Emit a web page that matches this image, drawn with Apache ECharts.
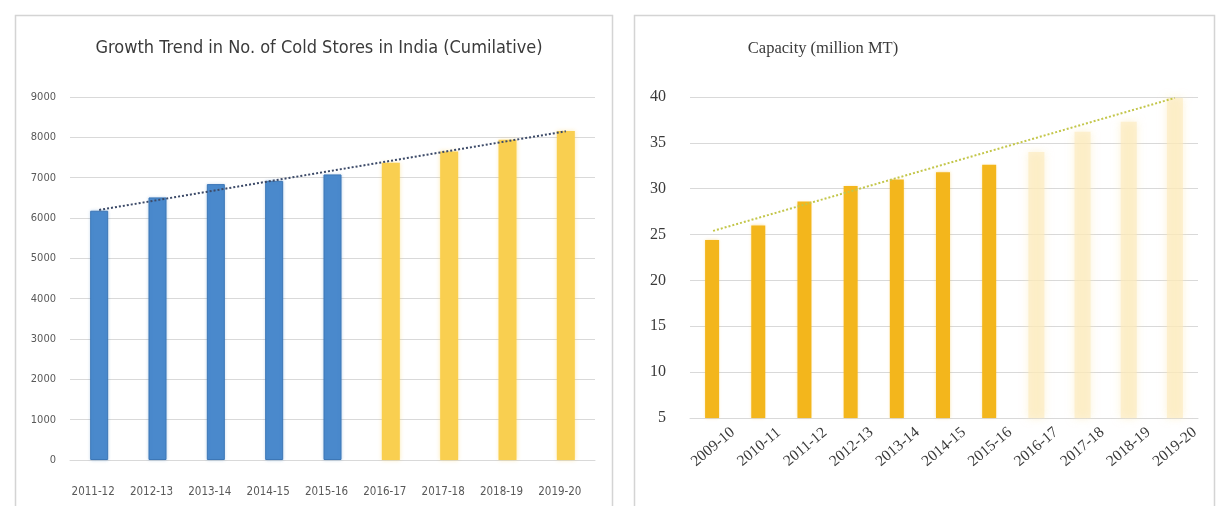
<!DOCTYPE html>
<html>
<head>
<meta charset="utf-8">
<script src="https://cdn.jsdelivr.net/npm/echarts@6/dist/echarts.min.js"></script>
<style>
  html, body { margin: 0; padding: 0; background: #ffffff; }
  #chart { width: 1219px; height: 506px; }
</style>
</head>
<body>
<div id="chart"></div>
<script>
// Cold stores in India (cumulative count)
const storeYears = ['2011-12', '2012-13', '2013-14', '2014-15', '2015-16', '2016-17', '2017-18', '2018-19', '2019-20'];
const storesActual = [6180, 6510, 6840, 6920, 7080, null, null, null, null];
const storesProjected = [null, null, null, null, null, 7370, 7650, 7940, 8160];
const storesTrend = [[0, 6200], [8, 8150]];
const storeTicks = { min: 0, max: 9000, step: 1000 };

// Cold storage capacity (million MT)
const capacityYears = ['2009-10', '2010-11', '2011-12', '2012-13', '2013-14', '2014-15', '2015-16', '2016-17', '2017-18', '2018-19', '2019-20'];
const capacityActual = [24.4, 26.0, 28.6, 30.3, 31.0, 31.8, 32.6, null, null, null, null];
const capacityProjected = [null, null, null, null, null, null, null, 34.0, 36.2, 37.3, 39.9];
const capacityTrend = [[0, 25.4], [10, 39.9]];
const capacityTicks = { min: 5, max: 40, step: 5 };

const sansFont = "'Liberation Sans Narrow', 'DejaVu Sans Condensed', 'Open Sans', sans-serif";
const serifFont = "'Liberation Serif', 'DejaVu Serif', serif";
const gridColor = '#d9d9d9';
const labelColor = '#595959';

const chart = echarts.init(document.getElementById('chart'), null, { renderer: 'canvas' });

chart.setOption({
  animation: false,
  backgroundColor: '#ffffff',
  graphic: [
    { type: 'rect', shape: { x: 15.5, y: 15.5, width: 597, height: 500 }, style: { fill: 'none', stroke: '#d4d4d4', lineWidth: 1.5 }, silent: true },
    { type: 'rect', shape: { x: 634.5, y: 15.5, width: 580, height: 500 }, style: { fill: 'none', stroke: '#d4d4d4', lineWidth: 1.5 }, silent: true }
  ],
  title: [
    {
      text: 'Growth Trend in No. of Cold Stores in India (Cumilative)',
      left: 314, top: 34, textAlign: 'center',
      textStyle: { fontFamily: sansFont, fontSize: 18, fontWeight: 'normal', color: '#3a3a3a' }
    },
    {
      text: 'Capacity (million MT)',
      left: 818, top: 35, textAlign: 'center',
      textStyle: { fontFamily: serifFont, fontSize: 16.5, fontWeight: 'normal', color: '#3a3a3a' }
    }
  ],
  grid: [
    { left: 70, top: 97, width: 525, height: 363 },
    { left: 690, top: 97, width: 508, height: 321 }
  ],
  xAxis: [
    {
      type: 'category', gridIndex: 0, data: storeYears,
      axisLine: { lineStyle: { color: gridColor } },
      axisTick: { show: false },
      axisLabel: {
        color: labelColor, fontFamily: sansFont, fontSize: 11.5, margin: 26,
        interval: 0, hideOverlap: false, padding: [0, 12, 0, 0]
      }
    },
    {
      type: 'category', gridIndex: 1, data: capacityYears,
      axisLine: { lineStyle: { color: gridColor } },
      axisTick: { show: false },
      axisLabel: {
        color: '#3a3a3a', fontFamily: serifFont, fontSize: 15.5, rotate: 40,
        align: 'center', verticalAlign: 'middle', margin: 29, interval: 0, hideOverlap: false
      }
    }
  ],
  yAxis: [
    {
      type: 'value', gridIndex: 0,
      min: storeTicks.min, max: storeTicks.max, interval: storeTicks.step,
      axisLine: { show: false }, axisTick: { show: false },
      splitLine: { lineStyle: { color: gridColor, width: 1.2 } },
      axisLabel: { color: labelColor, fontFamily: sansFont, fontSize: 11, margin: 14, formatter: v => String(v) }
    },
    {
      type: 'value', gridIndex: 1,
      min: capacityTicks.min, max: capacityTicks.max, interval: capacityTicks.step,
      axisLine: { show: false }, axisTick: { show: false },
      splitLine: { lineStyle: { color: gridColor, width: 1.2 } },
      axisLabel: { color: '#3a3a3a', fontFamily: serifFont, fontSize: 16, margin: 24 }
    }
  ],
  series: [
    {
      type: 'bar', xAxisIndex: 0, yAxisIndex: 0, data: storesActual,
      barWidth: 18, barGap: '-100%',
      itemStyle: { color: '#4a89cc', borderColor: '#3d77b6', borderWidth: 1, shadowColor: 'rgba(74,137,204,0.35)', shadowBlur: 3 }
    },
    {
      type: 'bar', xAxisIndex: 0, yAxisIndex: 0, data: storesProjected,
      barWidth: 18, barGap: '-100%',
      itemStyle: { color: '#f9cf50', shadowColor: 'rgba(249,207,80,0.45)', shadowBlur: 4 }
    },
    {
      type: 'line', xAxisIndex: 0, yAxisIndex: 0, data: storesTrend,
      symbol: 'none', z: 5,
      lineStyle: { color: '#3c4a68', width: 2, type: [2, 2] }
    },
    {
      type: 'bar', xAxisIndex: 1, yAxisIndex: 1, data: capacityActual,
      barWidth: 14, barGap: '-100%',
      itemStyle: { color: '#f3b61c', shadowColor: 'rgba(243,182,28,0.4)', shadowBlur: 3 }
    },
    {
      type: 'bar', xAxisIndex: 1, yAxisIndex: 1, data: capacityProjected,
      barWidth: 16, barGap: '-100%',
      itemStyle: { color: 'rgba(252,234,186,0.6)', shadowColor: 'rgba(252,232,180,0.9)', shadowBlur: 8 }
    },
    {
      type: 'line', xAxisIndex: 1, yAxisIndex: 1, data: capacityTrend,
      symbol: 'none', z: 5,
      lineStyle: { color: '#c3c64a', width: 2, type: [2, 2] }
    }
  ]
});
</script>
</body>
</html>
